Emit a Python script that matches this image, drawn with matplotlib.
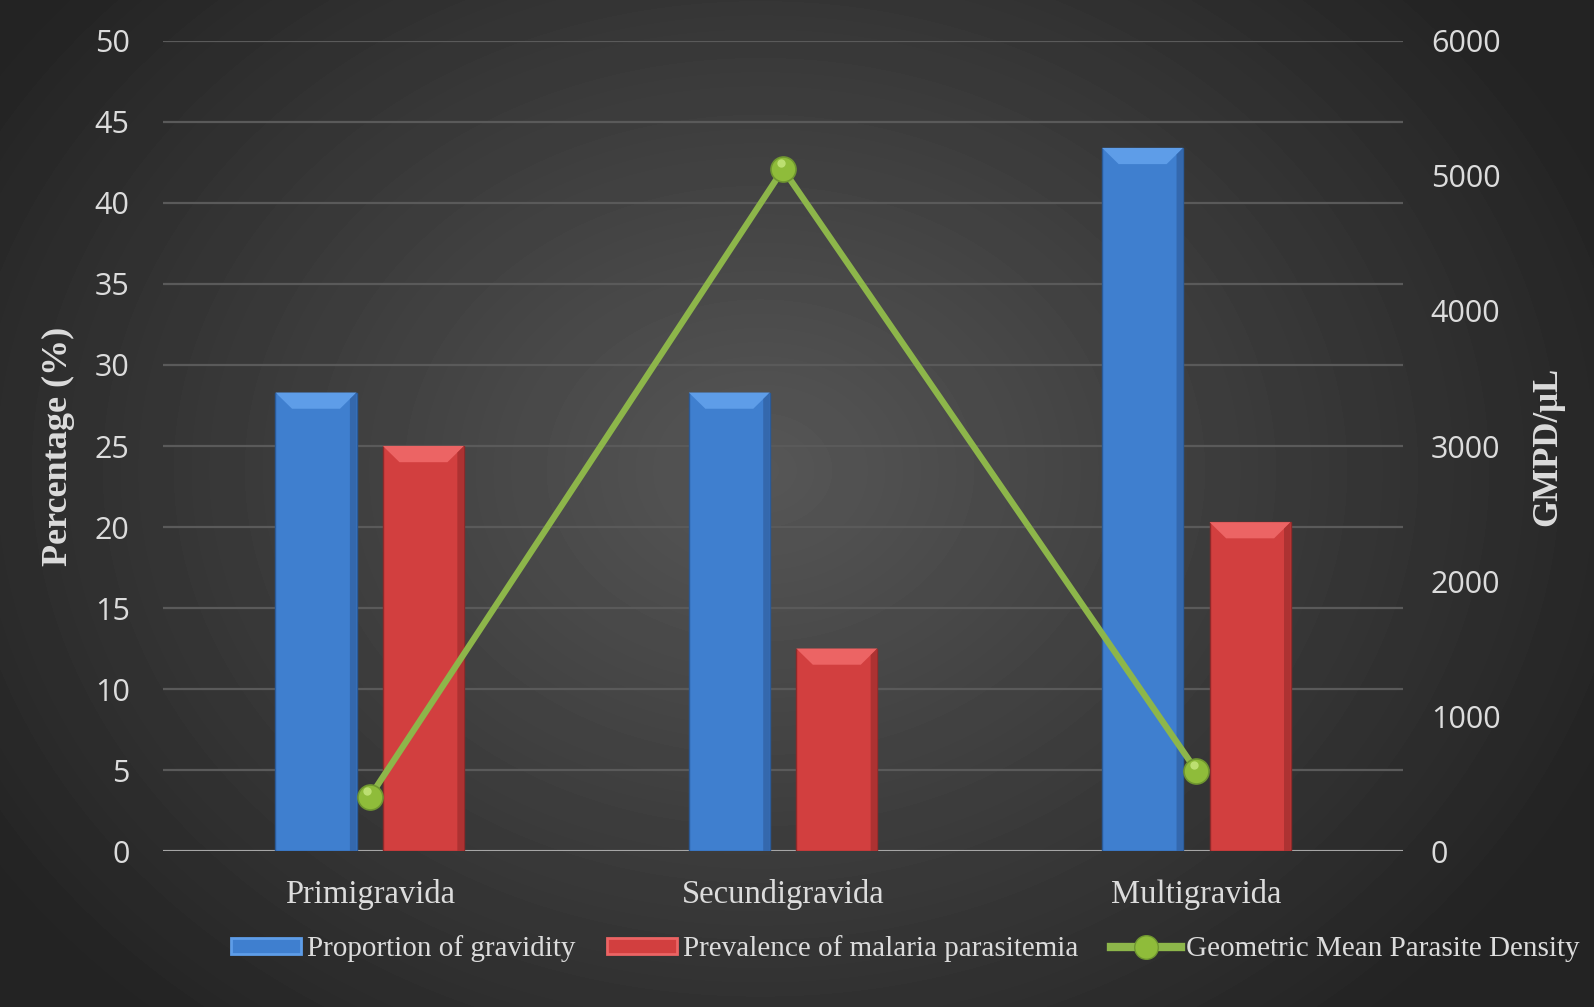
import numpy as np
import matplotlib
matplotlib.use("Agg")
import matplotlib.pyplot as plt
from matplotlib.patches import Polygon, Patch
from matplotlib.lines import Line2D

# data
categories = ["Primigravida", "Secundigravida", "Multigravida"]
gravidity = [28.3, 28.3, 43.4]          # Proportion of gravidity (%)
parasitemia = [25.0, 12.5, 20.3]        # Prevalence of malaria parasitemia (%)
gmpd = [400, 5050, 595]                 # Geometric Mean Parasite Density (/uL)
left_ticks = [0, 5, 10, 15, 20, 25, 30, 35, 40, 45, 50]
right_ticks = [0, 1000, 2000, 3000, 4000, 5000, 6000]

blue = "#3f7fcf"
red = "#d23f3f"
green = "#8db64a"
text_col = "#dcdcdc"
serif = ["Liberation Serif", "DejaVu Serif"]
sans = ["Open Sans", "DejaVu Sans"]


def bevel(ax, bars, top_col, side_col, dx=0.04, dy=1.0):
    # fake the office style bevel on each bar
    for r in bars:
        x, w, h = r.get_x(), r.get_width(), r.get_height()
        ax.add_patch(Polygon([(x, h), (x + w, h), (x + w - dx, h - dy), (x + dx, h - dy)],
                             closed=True, facecolor=top_col, edgecolor="none", zorder=3))
        ax.add_patch(Polygon([(x + w, h), (x + w - dx * 0.4, h - dy * 0.4),
                              (x + w - dx * 0.4, 0), (x + w, 0)],
                             closed=True, facecolor=side_col, edgecolor="none", zorder=3))


fig = plt.figure(figsize=(15.94, 10.07), dpi=100)

# radial background
bg = fig.add_axes([0, 0, 1, 1], zorder=-10)
yy, xx = np.mgrid[0:1007, 0:1594]
d = np.sqrt(((xx - 760) / 1000.0) ** 2 + ((yy - 470) / 800.0) ** 2)
shade = np.clip(0.34 - 0.22 * d, 0.14, 0.34)
bg.imshow(shade, cmap="gray", vmin=0, vmax=1, aspect="auto", interpolation="bilinear")
bg.axis("off")

ax = fig.add_axes([0.1023, 0.1549, 0.7779, 0.8044])
ax.patch.set_visible(False)
x = np.arange(len(categories))
bw = 0.196
off = 0.13

b1 = ax.bar(x - off, gravidity, bw, color=blue, edgecolor="#2a5a98", linewidth=1, zorder=2)
b2 = ax.bar(x + off, parasitemia, bw, color=red, edgecolor="#8e2a2a", linewidth=1, zorder=2)
bevel(ax, b1, "#5e9de8", "#3468ad")
bevel(ax, b2, "#ec6464", "#ad3232")

ax.set_xlim(-0.5, 2.5)
ax.set_ylim(0, 50)
ax.set_yticks(left_ticks)
ax.set_xticks(x)
ax.set_xticklabels(categories, fontsize=23.5, family=serif, color=text_col)
for lab in ax.get_yticklabels():
    lab.set_family(sans)
ax.tick_params(axis="y", length=0, pad=24, labelsize=22, labelcolor=text_col)
ax.tick_params(axis="x", length=0, pad=20)
ax.grid(axis="y", color="#5a5a5a", linewidth=1.6, zorder=0)
ax.set_axisbelow(True)
for s in ax.spines.values():
    s.set_visible(False)
ax.axhline(0, color="#a6a6a6", linewidth=2.2, zorder=1)
ax.set_ylabel("Percentage (%)", fontsize=26, fontweight="bold", family=serif,
              color=text_col, labelpad=14)

ax2 = ax.twinx()
ax2.patch.set_visible(False)
ax2.plot(x, gmpd, color=green, linewidth=4.5, zorder=5, solid_capstyle="round")
ax2.plot(x, gmpd, "o", markersize=18, markerfacecolor="#8fbc3a",
         markeredgecolor="#6f9630", markeredgewidth=1.2, zorder=6)
ax2.plot(x - 0.006, np.array(gmpd) + 45, "o", markersize=6, markerfacecolor="#c8e880",
         markeredgecolor="none", alpha=0.8, zorder=7)
ax2.set_ylim(0, 6000)
ax2.set_yticks(right_ticks)
for lab in ax2.get_yticklabels():
    lab.set_family(sans)
ax2.tick_params(axis="y", length=0, pad=20, labelsize=22, labelcolor=text_col)
for s in ax2.spines.values():
    s.set_visible(False)
ax2.set_ylabel("GMPD/μL", fontsize=25, fontweight="bold", family=serif,
               color=text_col, labelpad=22)

handles = [
    Patch(facecolor=blue, edgecolor="#5e9de8", linewidth=2),
    Patch(facecolor=red, edgecolor="#ec6464", linewidth=2),
    Line2D([0], [0], color=green, linewidth=6, marker="o", markersize=17,
           markerfacecolor="#8fbc3a", markeredgecolor="#6f9630"),
]
labels = ["Proportion of gravidity", "Prevalence of malaria parasitemia",
          "Geometric Mean Parasite Density"]
fig.legend(handles, labels, loc="center", bbox_to_anchor=(0.568, 0.058), ncol=3,
           frameon=False, handlelength=2.4, handleheight=0.45, handletextpad=0.2,
           columnspacing=1.1, prop={"family": serif, "size": 21}, labelcolor=text_col)

fig.savefig("out.png", dpi=100)
